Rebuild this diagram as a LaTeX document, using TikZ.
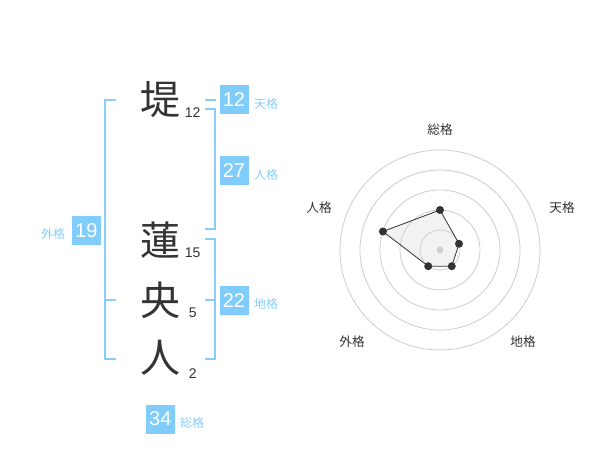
\documentclass[tikz,border=0pt]{standalone}
\usepackage{fontspec}
\setmainfont{Liberation Sans}
\newfontfamily\jp{Noto Sans CJK JP}
\definecolor{kblue}{RGB}{128,204,250}
\definecolor{lblue}{RGB}{136,206,248}
\definecolor{ink}{RGB}{51,51,51}
\definecolor{ring}{RGB}{204,204,204}
\begin{document}
\begin{tikzpicture}[x=0.75pt,y=-0.75pt,
  kanji/.style={font=\jp\fontsize{30}{30}\selectfont, text=ink, inner sep=0pt},
  strokes/.style={font=\fontsize{10.5}{10.5}\selectfont, text=ink, inner sep=0pt},
  numbox/.style={fill=kblue, text=white, minimum size=21.75pt, inner sep=0pt, font=\fontsize{15}{15}\selectfont},
  klabel/.style={text=lblue, font=\jp\fontsize{9}{9}\selectfont, inner sep=0pt},
  rlabel/.style={text=ink, font=\jp\fontsize{9.5}{9.5}\selectfont, inner sep=0pt},
  bracket/.style={draw=lblue, line width=1.5pt},
  ringline/.style={draw=ring, line width=0.6pt},
  dot/.style={circle, fill=ink, inner sep=0pt, minimum size=6pt}
]
\useasboundingbox (0,0) rectangle (600,470);

% name characters
\node[kanji] (k1) at (160,100) {堤};
\node[kanji] (k2) at (160,240) {蓮};
\node[kanji] (k3) at (160,300) {央};
\node[kanji] (k4) at (160,358) {人};
\node[strokes] (s1) at (192.7,112.7) {12};
\node[strokes] (s2) at (192.7,252.7) {15};
\node[strokes] (s3) at (192.7,312.7) {5};
\node[strokes] (s4) at (192.7,374) {2};

% brackets
\draw[bracket] (116,100) -- (105,100) -- (105,359) -- (116,359);
\draw[bracket] (105,300) -- (116,300);
\draw[bracket] (205,100) -- (216,100);
\draw[bracket] (205,109) -- (215,109) -- (215,229.5) -- (205,229.5);
\draw[bracket] (205,239.5) -- (215,239.5) -- (215,359) -- (205,359);
\draw[bracket] (205,300) -- (215,300);

% number boxes and labels
\node[numbox] (ten) at (234,100) {12};
\node[klabel] (tenl) at (266,104) {天格};
\node[numbox] (jin) at (234,170.5) {27};
\node[klabel] (jinl) at (266,174.5) {人格};
\node[numbox] (gai) at (86.3,230.3) {19};
\node[klabel] (gail) at (53,234) {外格};
\node[numbox] (chi) at (234,300.3) {22};
\node[klabel] (chil) at (266,304) {地格};
\node[numbox] (sou) at (160.3,419) {34};
\node[klabel] (soul) at (192,422.5) {総格};

% radar chart
\coordinate (c) at (440,250);
\foreach \r in {20,40,60,80,100} \draw[ringline] (c) circle[radius=\r];
\fill[ring] (c) circle[radius=3.5];
\coordinate (p1) at (440,210);
\coordinate (p2) at (459.0,243.8);
\coordinate (p3) at (451.8,266.2);
\coordinate (p4) at (428.2,266.2);
\coordinate (p5) at (382.9,231.5);
\filldraw[fill=black!15, fill opacity=0.35, draw=ink, line width=0.6pt] (p1) -- (p2) -- (p3) -- (p4) -- (p5) -- cycle;
\foreach \p in {p1,p2,p3,p4,p5} \node[dot] at (\p) {};
\node[rlabel] (rs) at (440,130) {総格};
\node[rlabel] (rt) at (562,208) {天格};
\node[rlabel] (rc) at (523,342) {地格};
\node[rlabel] (rg) at (352,342) {外格};
\node[rlabel] (rj) at (319,208) {人格};
\end{tikzpicture}
\end{document}
